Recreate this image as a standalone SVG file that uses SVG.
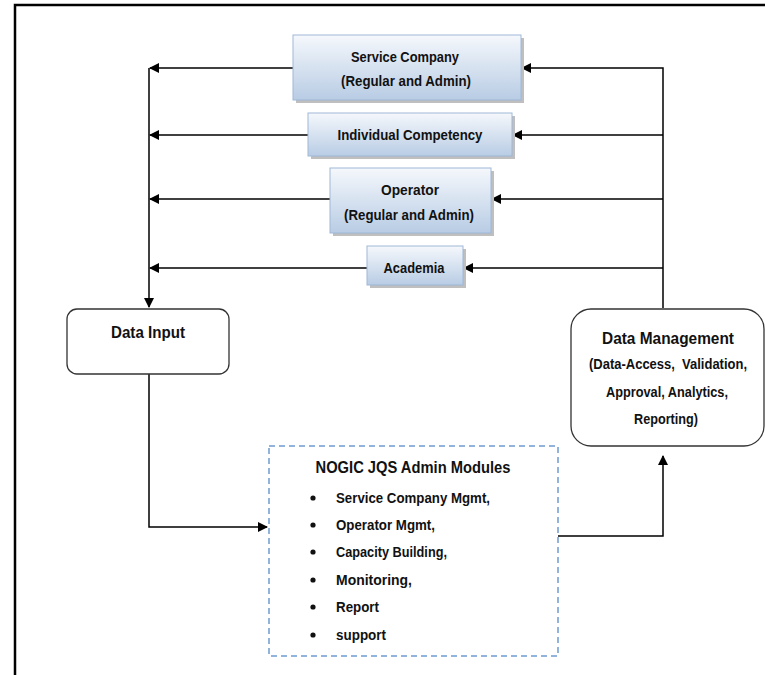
<svg xmlns="http://www.w3.org/2000/svg" width="765" height="675" viewBox="0 0 765 675">
<style>
.t{font-family:"Liberation Sans",Arial,sans-serif;font-weight:bold;fill:#111;text-anchor:middle}
.b{font-size:14.5px}
.ln{stroke:#000;stroke-width:1.5;fill:none}
.bx{fill:url(#g);stroke:#9fb8d8;stroke-width:1}
.sh{fill:#bfbfbf}
.rb{fill:#fff;stroke:#333;stroke-width:1.3}
.li{font-family:"Liberation Sans",Arial,sans-serif;font-weight:bold;font-size:14.5px;fill:#111}
</style>
<defs>
<linearGradient id="g" x1="0" y1="0" x2="0" y2="1">
<stop offset="0" stop-color="#f5f8fc"/>
<stop offset="1" stop-color="#b8cce4"/>
</linearGradient>
<marker id="a" markerWidth="10" markerHeight="10" refX="9" refY="5" orient="auto" markerUnits="userSpaceOnUse">
<path d="M0,0 L10,5 L0,10 z" fill="#000"/>
</marker>
</defs>
<rect width="765" height="675" fill="#fff"/>
<path d="M15,675 V5 H765" fill="none" stroke="#000" stroke-width="2.5"/>

<g id="connectors">
<path class="ln" d="M149,68 V307" marker-end="url(#a)"/>
<path class="ln" d="M293,68 H150" marker-end="url(#a)"/>
<path class="ln" d="M308,135 H150" marker-end="url(#a)"/>
<path class="ln" d="M330,199 H150" marker-end="url(#a)"/>
<path class="ln" d="M367,268 H150" marker-end="url(#a)"/>
<path class="ln" d="M663,308 V68 H522" marker-end="url(#a)"/>
<path class="ln" d="M663,135 H513" marker-end="url(#a)"/>
<path class="ln" d="M663,199 H492" marker-end="url(#a)"/>
<path class="ln" d="M663,268 H464" marker-end="url(#a)"/>
<path class="ln" d="M149,374 V527 H267" marker-end="url(#a)"/>
<path class="ln" d="M558,536 H663 V456" marker-end="url(#a)"/>
</g>

<g id="service-company">
<rect class="sh" x="296" y="38" width="228" height="65"/>
<rect class="bx" x="293" y="35" width="228" height="65"/>
<text class="t b" x="405" y="62" textLength="108" lengthAdjust="spacingAndGlyphs">Service Company</text>
<text class="t b" x="406" y="86" textLength="130" lengthAdjust="spacingAndGlyphs">(Regular and Admin)</text>
</g>
<g id="individual-competency">
<rect class="sh" x="311" y="116" width="204" height="43"/>
<rect class="bx" x="308" y="113" width="204" height="43"/>
<text class="t b" x="410" y="140" textLength="145" lengthAdjust="spacingAndGlyphs">Individual Competency</text>
</g>
<g id="operator">
<rect class="sh" x="333" y="171" width="161" height="65"/>
<rect class="bx" x="330" y="168" width="161" height="65"/>
<text class="t b" x="410" y="195" textLength="58" lengthAdjust="spacingAndGlyphs">Operator</text>
<text class="t b" x="409" y="220" textLength="130" lengthAdjust="spacingAndGlyphs">(Regular and Admin)</text>
</g>
<g id="academia">
<rect class="sh" x="370" y="249" width="96" height="39"/>
<rect class="bx" x="367" y="246" width="96" height="39"/>
<text class="t b" x="414" y="273" textLength="61" lengthAdjust="spacingAndGlyphs">Academia</text>
</g>

<g id="data-input">
<rect class="rb" x="67" y="309" width="162" height="65" rx="10"/>
<text class="t" x="148" y="338" font-size="16.5" textLength="74" lengthAdjust="spacingAndGlyphs">Data Input</text>
</g>

<g id="data-management">
<rect class="rb" x="571" y="309" width="193" height="137" rx="20"/>
<text class="t" x="668" y="344" font-size="17" font-weight="normal" textLength="132" lengthAdjust="spacingAndGlyphs">Data Management</text>
<text class="t b" x="668" y="369" xml:space="preserve" textLength="158" lengthAdjust="spacingAndGlyphs">(Data-Access,  Validation,</text>
<text class="t b" x="667" y="397" textLength="122" lengthAdjust="spacingAndGlyphs">Approval, Analytics,</text>
<text class="t b" x="666" y="424" textLength="64" lengthAdjust="spacingAndGlyphs">Reporting)</text>
</g>

<g id="admin-modules">
<rect x="269" y="446" width="289" height="210" fill="#fff" stroke="#6f9bd0" stroke-width="1.5" stroke-dasharray="6,4"/>
<text class="t" x="413" y="473" font-size="17" textLength="195" lengthAdjust="spacingAndGlyphs">NOGIC JQS Admin Modules</text>
<g fill="#111">
<circle cx="313" cy="498" r="2.6"/>
<circle cx="313" cy="525" r="2.6"/>
<circle cx="313" cy="552" r="2.6"/>
<circle cx="313" cy="580" r="2.6"/>
<circle cx="313" cy="607" r="2.6"/>
<circle cx="313" cy="635" r="2.6"/>
</g>
<text class="li" x="336" y="503" textLength="154" lengthAdjust="spacingAndGlyphs">Service Company Mgmt,</text>
<text class="li" x="336" y="530" textLength="99" lengthAdjust="spacingAndGlyphs">Operator Mgmt,</text>
<text class="li" x="336" y="557" textLength="111" lengthAdjust="spacingAndGlyphs">Capacity Building,</text>
<text class="li" x="336" y="585" textLength="76" lengthAdjust="spacingAndGlyphs">Monitoring,</text>
<text class="li" x="336" y="612" textLength="43" lengthAdjust="spacingAndGlyphs">Report</text>
<text class="li" x="336" y="640" textLength="50" lengthAdjust="spacingAndGlyphs">support</text>
</g>
</svg>
